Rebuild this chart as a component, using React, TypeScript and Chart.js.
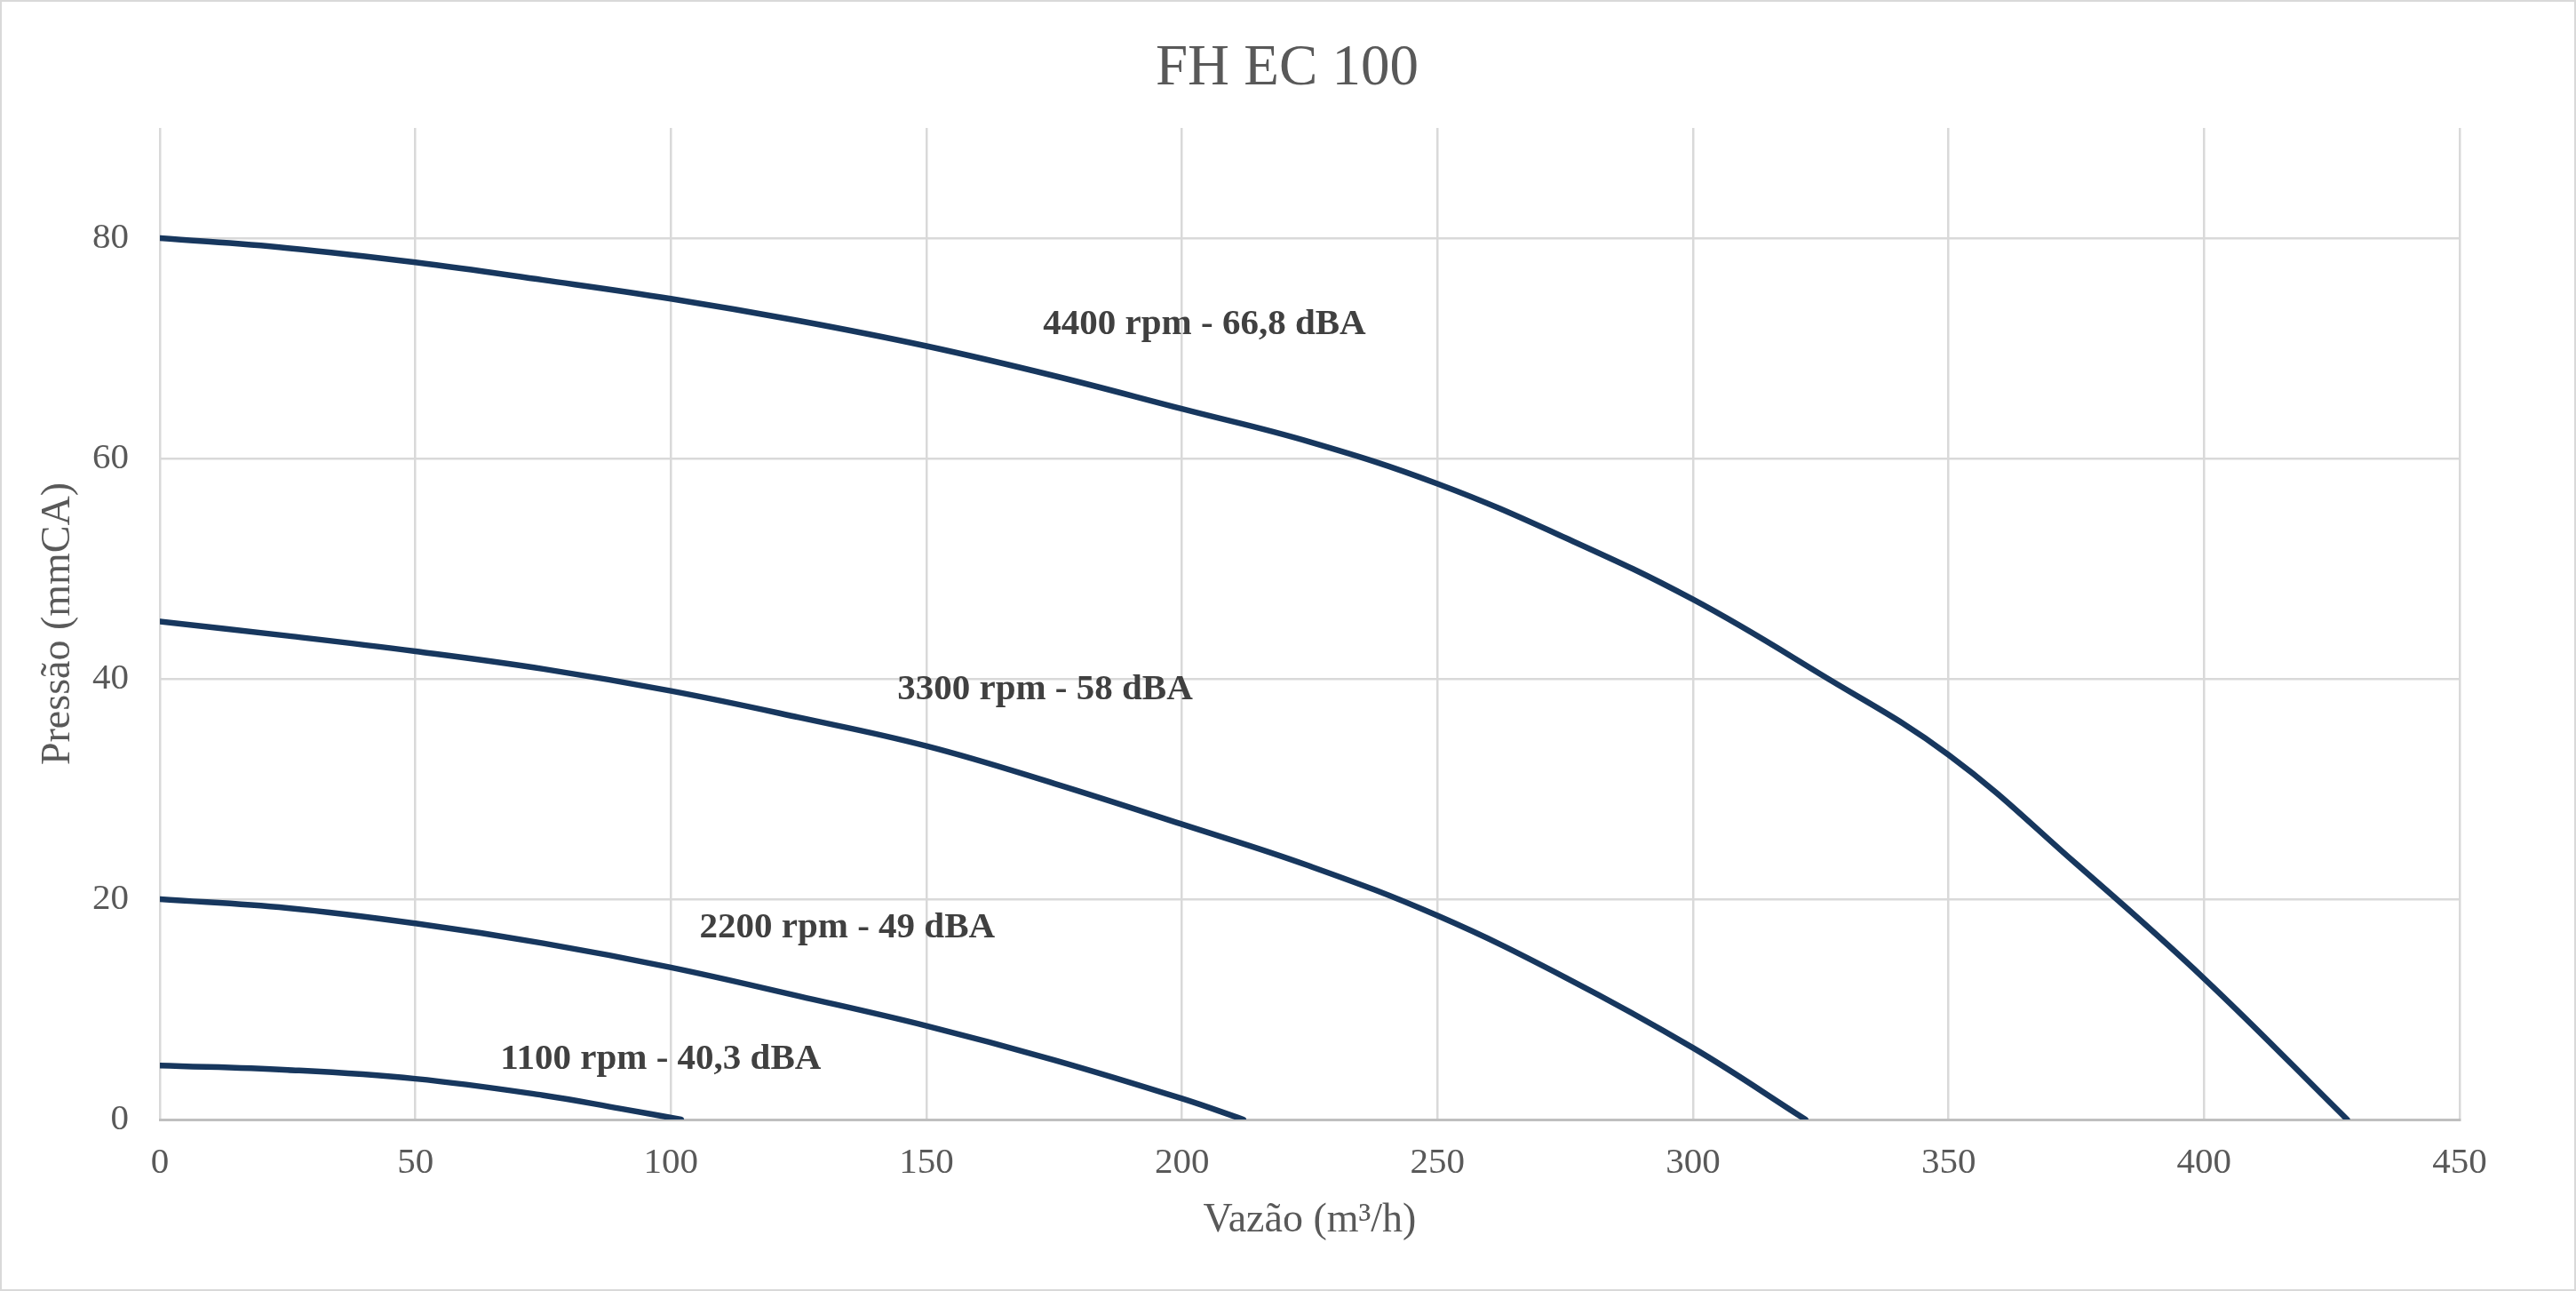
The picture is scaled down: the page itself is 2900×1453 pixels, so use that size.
import { useEffect, useRef } from "react"
import { Chart, registerables } from "chart.js"

Chart.register(...registerables)

// fan curves: flow in m³/h, pressure in mmCA
const flow4400 = [0, 25, 50, 75, 100, 125, 150, 175, 200, 225, 250, 275, 300, 325, 350, 375, 400, 428]
const press4400 = [80, 79.1, 77.8, 76.2, 74.5, 72.5, 70.2, 67.5, 64.5, 61.5, 57.7, 52.8, 47.2, 40.4, 33.1, 23.2, 12.8, 0]

const flow3300 = [0, 25, 50, 75, 100, 125, 150, 175, 200, 225, 250, 275, 300, 322]
const press3300 = [45.2, 43.9, 42.5, 40.9, 38.9, 36.5, 33.9, 30.5, 26.8, 23.0, 18.5, 12.9, 6.5, 0]

const flow2200 = [0, 25, 50, 75, 100, 125, 150, 175, 200, 212]
const press2200 = [20, 19.2, 17.8, 16.0, 13.8, 11.2, 8.5, 5.4, 1.9, 0]

const flow1100 = [0, 25, 50, 75, 90, 102]
const press1100 = [4.9, 4.5, 3.7, 2.2, 1.0, 0]

const curveLabels = ["4400 rpm - 66,8 dBA", "3300 rpm - 58 dBA", "2200 rpm - 49 dBA", "1100 rpm - 40,3 dBA"]
const labelFlow = [204.4, 173.2, 134.5, 98.0]
const labelPressure = [72.4, 39.3, 17.7, 5.7]

const chartTitle = "FH EC 100"
const xTitle = "Vazão (m³/h)"
const yTitle = "Pressão (mmCA)"

const FONT = "'Liberation Serif', 'Times New Roman', serif"
const LINE = "#17375E"
const GRID = "#D9D9D9"
const TEXT = "#595959"

const decorations = {
  id: "decorations",
  beforeDraw(chart: Chart) {
    const { ctx, width, height } = chart
    ctx.save()
    ctx.fillStyle = "#fff"
    ctx.fillRect(0, 0, width, height)
    ctx.strokeStyle = GRID
    ctx.lineWidth = 2
    ctx.strokeRect(1, 1, width - 2, height - 2)
    ctx.restore()
  },
  afterDatasetsDraw(chart: Chart) {
    const { ctx, width } = chart
    const x = chart.scales.x
    const y = chart.scales.y
    ctx.save()
    // title
    ctx.fillStyle = TEXT
    ctx.font = `65px ${FONT}`
    ctx.textAlign = "center"
    ctx.textBaseline = "alphabetic"
    ctx.fillText(chartTitle, width / 2 - 1, 95)
    // curve labels
    ctx.fillStyle = "#404040"
    ctx.font = `bold 41px ${FONT}`
    curveLabels.forEach((text, i) => {
      const px = x.getPixelForValue(labelFlow[i])
      const py = y.getPixelForValue(labelPressure[i])
      ctx.fillText(text, px, py + 14)
    })
    ctx.restore()
  },
}

export default function App() {
  const chartRef = useRef<HTMLCanvasElement>(null)

  useEffect(() => {
    if (!chartRef.current) return

    const series = [
      { flow: flow4400, press: press4400 },
      { flow: flow3300, press: press3300 },
      { flow: flow2200, press: press2200 },
      { flow: flow1100, press: press1100 },
    ]

    const chart = new Chart(chartRef.current, {
      type: "scatter",
      data: {
        datasets: series.map((s, i) => ({
          label: curveLabels[i],
          data: s.flow.map((f, j) => ({ x: f, y: s.press[j] })),
          showLine: true,
          borderColor: LINE,
          backgroundColor: LINE,
          borderWidth: 6.5,
          borderCapStyle: "round" as const,
          borderJoinStyle: "round" as const,
          pointRadius: 0,
          tension: 0.4,
        })),
      },
      options: {
        animation: false,
        responsive: true,
        maintainAspectRatio: false,
        layout: { padding: { top: 144, right: 131, left: 0, bottom: 0 } },
        plugins: {
          legend: { display: false },
          title: { display: false },
          tooltip: { enabled: false },
        },
        scales: {
          x: {
            type: "linear",
            min: 0,
            max: 450,
            ticks: { stepSize: 50, color: TEXT, font: { family: FONT, size: 41 }, padding: 25 },
            grid: { color: GRID, lineWidth: 2.5, drawTicks: false },
            border: { color: "#BFBFBF", width: 3 },
            title: {
              display: true,
              text: xTitle,
              color: TEXT,
              font: { family: FONT, size: 46 },
              padding: { top: 0, bottom: 51 },
            },
            afterFit: (scale) => {
              scale.height = 193
            },
          },
          y: {
            type: "linear",
            min: 0,
            max: 90,
            ticks: { stepSize: 20, includeBounds: false, color: TEXT, font: { family: FONT, size: 41 }, padding: 35 },
            grid: { color: GRID, lineWidth: 2.5, drawTicks: false },
            border: { display: false },
            title: {
              display: true,
              text: yTitle,
              color: TEXT,
              font: { family: FONT, size: 46 },
              padding: { top: 38, bottom: 0 },
            },
            afterFit: (scale) => {
              scale.width = 180
            },
          },
        },
      },
      plugins: [decorations],
    })

    return () => {
      chart.destroy()
    }
  }, [])

  return (
    <div style={{ position: "fixed", left: 0, top: 0, width: 2900, height: 1453, background: "#fff" }}>
      <canvas ref={chartRef} />
    </div>
  )
}
